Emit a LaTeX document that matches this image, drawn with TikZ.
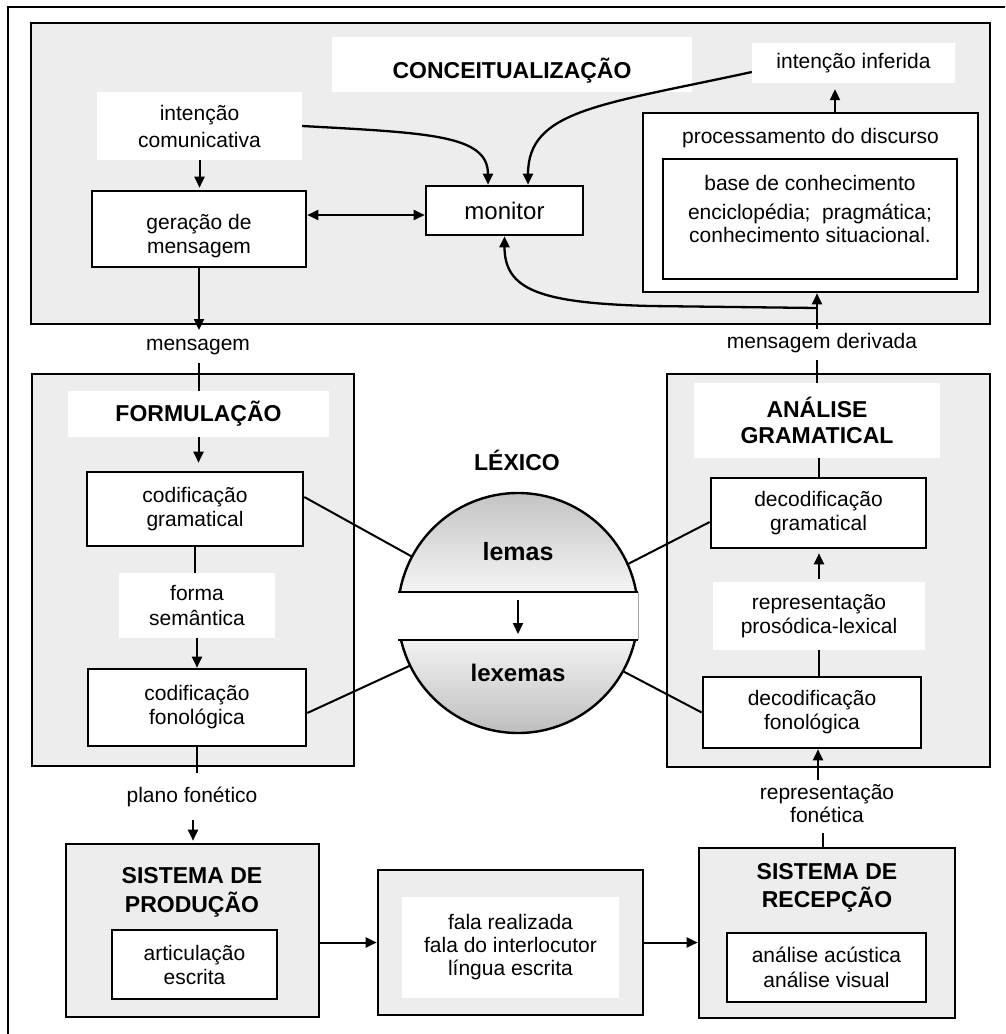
\documentclass[tikz,border=0pt]{standalone}
\usepackage{fontspec}
\setmainfont{Liberation Sans}
\usetikzlibrary{arrows.meta}
\begin{document}
\begin{tikzpicture}[x=1pt,y=-1pt,
  >={Triangle[length=11pt,width=10pt]},
  every node/.style={font=\fontsize{21}{24}\selectfont, inner sep=0pt, align=center},
  panel/.style={draw, line width=2.6pt, fill=black!7},
  wbox/.style={draw, line width=2.6pt, fill=white},
  wlab/.style={fill=white},
  ttl/.style={font=\fontsize{23}{28}\selectfont\bfseries},
  arr/.style={line width=2pt, ->},
  dbl/.style={line width=2pt, <->},
  ln/.style={line width=2pt},
  crv/.style={line width=2.3pt, ->},
]
\useasboundingbox (0,0) rectangle (1005,1034);
% outer frame
\draw[line width=2.2pt] (8,1034) -- (8,7) -- (1005,7);

% ---------------- conceptualisation ----------------
\node[panel, minimum width=959pt, minimum height=301pt] (concept) at (510.5,173.5) {};
\node[wlab, minimum width=360pt, minimum height=55pt] (conlab) at (512,64.5) {};
\node[ttl] (contitle) at (512,71) {CONCEITUALIZAÇÃO};
\node[wlab, minimum width=205pt, minimum height=68pt, font=\fontsize{21}{27}\selectfont] (intc) at (199.5,126) {intenção\\comunicativa};
\node[wbox, minimum width=214pt, minimum height=76pt] (gerac) at (199,229) {};
\node (geractxt) at (199,236) {geração de\\mensagem};
\node[wbox, minimum width=157pt, minimum height=49pt, font=\fontsize{24}{28}\selectfont] (mon) at (504.5,210.5) {monitor};
\node[wlab, minimum width=203pt, minimum height=40pt] (intinf) at (853.5,63) {intenção inferida};
\node[wbox, minimum width=335pt, minimum height=179pt] (proc) at (810.5,202.5) {};
\node (proctxt) at (810.5,138) {processamento do discurso};
\node[wbox, minimum width=294pt, minimum height=120pt] (base) at (810,219) {};
\node (basetxt) at (810,183) {base de conhecimento};
\node[font=\fontsize{21}{23}\selectfont] (enctxt) at (810,223.5) {enciclopédia;\ \ pragmática;\\conhecimento situacional.};

% ---------------- formulation ----------------
\node[panel, minimum width=322pt, minimum height=392pt] (form) at (193,570) {};
\node[wlab, ttl, minimum width=261pt, minimum height=46pt] (formlab) at (198.5,414) {FORMULAÇÃO};
\node[wbox, minimum width=216pt, minimum height=74pt] (codgram) at (195,509) {codificação\\gramatical};
\node[wlab, minimum width=156pt, minimum height=65pt, font=\fontsize{21}{25}\selectfont] (forma) at (197,605.5) {forma\\semântica};
\node[wbox, minimum width=218pt, minimum height=77pt] (codfon) at (197,707.5) {codificação\\fonológica};

% ---------------- grammatical analysis ----------------
\node[panel, minimum width=323pt, minimum height=393pt] (anal) at (828.5,570.5) {};
\node[wlab, ttl, font=\fontsize{23}{26}\selectfont\bfseries, minimum width=246pt, minimum height=75pt] (anlab) at (817,420.5) {ANÁLISE\\GRAMATICAL};
\node[wbox, minimum width=215pt, minimum height=70pt] (decgram) at (818.5,513) {decodificação\\gramatical};
\node[wlab, minimum width=212pt, minimum height=68pt] (reprp) at (819,616) {representação\\prosódica-lexical};
\node[wbox, minimum width=218pt, minimum height=71pt] (decfon) at (812,712.5) {decodificação\\fonológica};

% ---------------- free labels ----------------
\node (msg) at (198,347) {mensagem};
\node (msgder) at (822,343) {mensagem derivada};
\node (plano) at (192,797) {plano fonético};
\node[font=\fontsize{21}{23}\selectfont] (reprf) at (827,803.5) {representação\\fonética};

% ---------------- bottom row ----------------
\node[panel, minimum width=253pt, minimum height=173pt] (prod) at (192.5,930.5) {};
\node[ttl, font=\fontsize{23}{29}\selectfont\bfseries] (prodtitle) at (192,892.5) {SISTEMA DE\\PRODUÇÃO};
\node[wbox, minimum width=165pt, minimum height=69pt] (artic) at (194.5,964.5) {articulação\\escrita};
\node[panel, minimum width=265pt, minimum height=145pt] (mid) at (510.5,942.5) {};
\node[wlab, minimum width=217pt, minimum height=101pt, font=\fontsize{21}{23}\selectfont] (midin) at (510.5,947) {fala realizada\\fala do interlocutor\\língua escrita};
\node[panel, minimum width=256pt, minimum height=170pt] (recep) at (827,933) {};
\node[ttl] (receptitle) at (827,888) {SISTEMA DE\\RECEPÇÃO};
\node[wbox, minimum width=199pt, minimum height=69pt, font=\fontsize{21}{25}\selectfont] (anac) at (826.5,967.5) {análise acústica\\análise visual};

% ---------------- lexicon ----------------
\node[ttl] (lextitle) at (517,460) {LÉXICO};
\node[circle, minimum size=240pt] (lex) at (518,613) {};
\begin{scope}
  \clip (518,613) circle[radius=120pt];
  \shade[top color=black!24, bottom color=black!4] (396,490) rectangle (640,592);
  \shade[top color=black!5, bottom color=black!26] (396,640) rectangle (640,736);
\end{scope}
\draw[line width=2.4pt] (lex.center) circle[radius=120pt];
\fill[white] (394,592) rectangle (642,640);
\draw[line width=2pt] (398,592) -- (638,592) (398,640) -- (638,640);
\draw[line width=0.8pt, black!35] (638,592) -- (638,640);
\node[font=\fontsize{25}{28}\selectfont\bfseries] (lemas) at (518,552) {lemas};
\node[font=\fontsize{24}{28}\selectfont\bfseries] (lexemas) at (518,673) {lexemas};
\coordinate (lexa) at (518,600);
\coordinate (lexb) at (518,634);
\draw[arr] (lexa) -- (lexb);

% ---------------- connectors: conceptualisation ----------------
\draw[arr, shorten >=2pt] (intc.south) -- (intc.south |- gerac.north);
\coordinate (gm) at ([yshift=14pt]gerac.east);
\draw[dbl] (gm) -- (gm -| mon.west);
\draw[crv] (intc.east) .. controls (430,133) and (488,135) .. ([xshift=-16.5pt]mon.north);
\draw[crv] ([yshift=-9pt]intinf.west) .. controls (600,105) and (528,110) .. ([xshift=23.5pt]mon.north);
\coordinate (pa) at ([xshift=24.5pt]proc.north);
\draw[arr, shorten >=6pt] (pa) -- (pa |- intinf.south);
\coordinate (mdtop) at (817,329);
\draw[arr] (mdtop) -- (mdtop |- proc.south);
\coordinate (junc) at (817,308);
\coordinate (bend) at (650,306);
\draw[crv] (junc) -- (bend) .. controls (540,303) and (504.5,290) .. (mon.south);

% ---------------- connectors: formulation ----------------
\coordinate (msgtop) at (199,330);
\coordinate (msgbot) at (198.5,363);
\draw[arr] (gerac.south) -- (msgtop);
\draw[ln] (msgbot) -- (formlab.north);
\draw[arr, shorten >=8pt] (formlab.south) -- (formlab.south |- codgram.north);
\draw[ln] (codgram.south) -- (codgram.south |- forma.north);
\draw[arr] (forma.south) -- (forma.south |- codfon.north);
\coordinate (pfbot) at (197,773);
\draw[ln] (codfon.south) -- (pfbot);
\coordinate (pftop) at (193,820);
\draw[arr, shorten >=2pt] (pftop) -- (pftop |- prod.north);

% ---------------- connectors: analysis ----------------
\coordinate (mdbot) at (817,360);
\draw[ln] (anlab.north) -- (mdbot);
\draw[ln] (decgram.north) -- (decgram.north |- anlab.south);
\draw[arr, shorten <=3pt, shorten >=4pt] (reprp.north) -- (reprp.north |- decgram.south);
\draw[ln] (reprp.south) -- (reprp.south |- decfon.north);
\coordinate (rft) at (818,780);
\draw[arr] (rft) -- (rft |- decfon.south);
\coordinate (rfb) at (823,833);
\draw[ln] (rfb) -- (rfb |- recep.north);

% ---------------- connectors: bottom row ----------------
\draw[arr] (prod.east |- mid.west) -- (mid.west);
\draw[arr] (mid.east) -- (mid.east -| recep.west);

% ---------------- connectors: lexicon ----------------
\draw[ln] ([yshift=12pt]codgram.east) -- (lex.152);
\draw[ln] ([yshift=-5.5pt]codfon.east) -- (lex.206);
\draw[ln] ([yshift=-9pt]decgram.west) -- (lex.24);
\draw[ln] (decfon.west) -- (lex.331);
\end{tikzpicture}
\end{document}
